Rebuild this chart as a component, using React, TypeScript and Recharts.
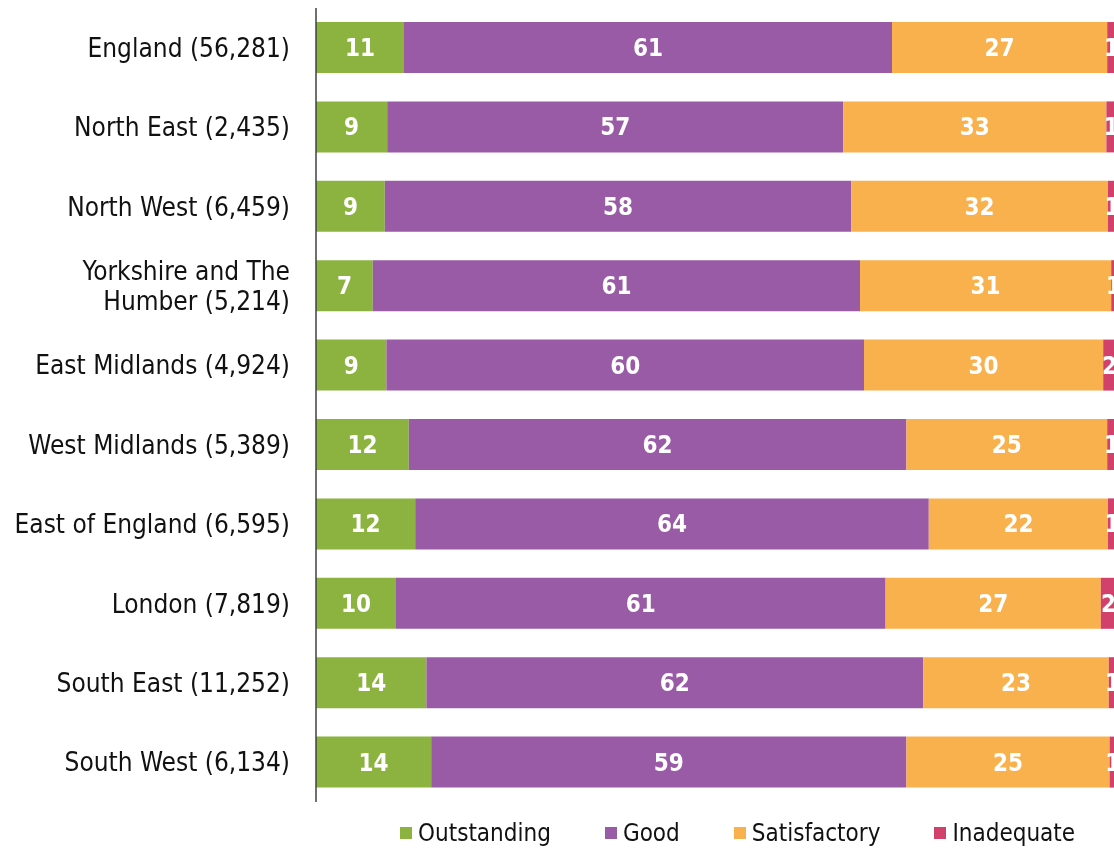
import React from 'react';
import { BarChart, Bar, XAxis, YAxis, Legend, LabelList } from 'recharts';

const regions = [
  'England (56,281)',
  'North East (2,435)',
  'North West (6,459)',
  'Yorkshire and The\nHumber (5,214)',
  'East Midlands (4,924)',
  'West Midlands (5,389)',
  'East of England (6,595)',
  'London (7,819)',
  'South East (11,252)',
  'South West (6,134)',
];

const seriesNames = ['Outstanding', 'Good', 'Satisfactory', 'Inadequate'];

// shares of providers by grade, %
const outstanding = [11.0, 8.9, 8.6, 7.1, 8.8, 11.6, 12.4, 10.0, 13.8, 14.4];
const good = [61.0, 57.0, 58.3, 60.9, 59.7, 62.2, 64.2, 61.2, 62.1, 59.4];
const satisfactory = [26.9, 32.9, 32.1, 31.4, 29.9, 25.1, 22.4, 26.9, 23.2, 25.4];
const inadequate = [1.1, 1.2, 1.0, 0.6, 1.6, 1.1, 1.0, 1.9, 0.9, 0.8];

const data = regions.map((label, i) => ({
  label,
  outstanding: outstanding[i],
  good: good[i],
  satisfactory: satisfactory[i],
  inadequate: inadequate[i],
}));

const FONT = "'DejaVu Sans Condensed', 'DejaVu Sans', sans-serif";

function RegionTick({ x, y, payload }: any) {
  const lines = String(payload.value).split('\n');
  const lineH = 30;
  const startY = y - ((lines.length - 1) * lineH) / 2;
  return (
    <text x={x} y={startY} textAnchor="end" fontSize={26} fill="#111" fontFamily={FONT}>
      {lines.map((line, i) => (
        <tspan key={i} x={x} dy={i === 0 ? '0.35em' : lineH}>
          {line}
        </tspan>
      ))}
    </text>
  );
}

function LegendContent({ payload }: any) {
  const items = [...(payload || [])].sort(
    (a: any, b: any) => seriesNames.indexOf(a.value) - seriesNames.indexOf(b.value)
  );
  return (
    <div style={{ display: 'flex', alignItems: 'center', fontFamily: FONT, fontSize: 24, color: '#111' }}>
      {items.map((entry: any) => (
        <div key={entry.value} style={{ display: 'flex', alignItems: 'center', marginRight: 54 }}>
          <span style={{ width: 12, height: 12, background: entry.color, marginRight: 6, display: 'inline-block' }} />
          <span>{entry.value}</span>
        </div>
      ))}
    </div>
  );
}

const fmt = (v: any) => Math.round(Number(v));

const labelStyle = { fill: '#fff', fontSize: 24, fontWeight: 700, fontFamily: FONT };

export default function App() {
  return (
    <div style={{ position: 'fixed', top: 8, left: 8, width: 1106, height: 840, overflow: 'hidden' }}>
      <BarChart
        width={1120}
        height={840}
        data={data}
        layout="vertical"
        margin={{ top: 0, right: 12, bottom: 46, left: 0 }}
        barSize={51}
      >
        <XAxis type="number" domain={[0, 100]} hide />
        <YAxis
          type="category"
          dataKey="label"
          width={308}
          tickLine={false}
          tickSize={0}
          tickMargin={26}
          axisLine={{ stroke: '#404040', strokeWidth: 1.5 }}
          tick={<RegionTick />}
          interval={0}
        />
        <Legend
          layout="horizontal"
          verticalAlign="middle"
          align="center"
          itemSorter={null}
          content={<LegendContent />}
          wrapperStyle={{ top: 811, left: 392, width: 720, height: 34 }}
        />
        <Bar dataKey="outstanding" name={seriesNames[0]} stackId="a" fill="#8CB340" isAnimationActive={false}>
          <LabelList dataKey="outstanding" position="center" formatter={fmt} style={labelStyle} />
        </Bar>
        <Bar dataKey="good" name={seriesNames[1]} stackId="a" fill="#9A5BA6" isAnimationActive={false}>
          <LabelList dataKey="good" position="center" formatter={fmt} style={labelStyle} />
        </Bar>
        <Bar dataKey="satisfactory" name={seriesNames[2]} stackId="a" fill="#F8B14C" isAnimationActive={false}>
          <LabelList dataKey="satisfactory" position="center" formatter={fmt} style={labelStyle} />
        </Bar>
        <Bar dataKey="inadequate" name={seriesNames[3]} stackId="a" fill="#D1416C" isAnimationActive={false}>
          <LabelList dataKey="inadequate" position="center" formatter={fmt} style={labelStyle} />
        </Bar>
      </BarChart>
    </div>
  );
}
